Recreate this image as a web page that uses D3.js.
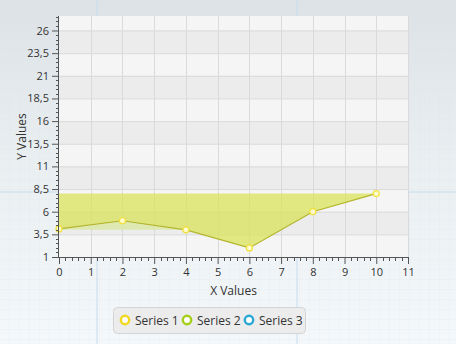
<!DOCTYPE html>
<html>
<head>
<meta charset="utf-8">
<script src="https://cdn.jsdelivr.net/npm/d3@7"></script>
<style>
  html, body { margin: 0; padding: 0; }
  body { width: 456px; height: 344px; overflow: hidden; }
  svg text { font-family: 'Open Sans', Lato, sans-serif; fill: #333; }
</style>
</head>
<body>
<svg id="chart" width="456" height="344"></svg>
<script>
const X_VALUES = [0, 2, 4, 6, 8, 10]
const SERIES_1 = [4.1, 5, 4, 2, 6, 8]
const BASE_HIGH = 8
const BASE_LOW = 4
const LOW_AREA_END = 4
const Y_TICKS = [1, 3.5, 6, 8.5, 11, 13.5, 16, 18.5, 21, 23.5, 26]
const X_TICKS = [0, 1, 2, 3, 4, 5, 6, 7, 8, 9, 10, 11]
const LEGEND = ['Series 1', 'Series 2', 'Series 3']
const LEGEND_COLORS = ['#f2d81c', '#a5cf1a', '#2aa8d4']

const M = { left: 59, right: 408, top: 16, bottom: 257 }
const svg = d3.select('#chart')
const defs = svg.append('defs')

// page background: soft gradient plus graph paper
const bg = defs.append('linearGradient').attr('id', 'bg').attr('x1', 0).attr('y1', 0).attr('x2', 0).attr('y2', 1)
bg.append('stop').attr('offset', 0).attr('stop-color', '#dde2e6')
bg.append('stop').attr('offset', 0.45).attr('stop-color', '#e9eef1')
bg.append('stop').attr('offset', 1).attr('stop-color', '#f4f8fb')
const pat = defs.append('pattern').attr('id', 'paper').attr('width', 10).attr('height', 10).attr('patternUnits', 'userSpaceOnUse')
pat.append('path').attr('d', 'M10 0V10M0 10H10').attr('stroke', '#d6e2ea').attr('stroke-width', 0.6).attr('fill', 'none')
svg.append('rect').attr('width', 456).attr('height', 344).attr('fill', 'url(#bg)')
svg.append('rect').attr('width', 456).attr('height', 344).attr('fill', 'url(#paper)').attr('opacity', 0.6)
svg.append('path').attr('d', 'M97 0V344M297 0V344M0 192H456').attr('stroke', '#c5dcee').attr('stroke-width', 1)

const x = d3.scaleLinear().domain([0, 11]).range([M.left, M.right])
const y = d3.scaleLinear().domain([1, 27.6]).range([M.bottom, M.top])

// plot background with alternating bands
const g = svg.append('g')
g.append('rect').attr('x', M.left).attr('y', M.top).attr('width', M.right - M.left).attr('height', M.bottom - M.top).attr('fill', '#f5f5f5')
const bands = Y_TICKS.slice(0, -1).map((t, i) => [t, Y_TICKS[i + 1]]).filter((_, i) => i % 2 === 1)
g.selectAll('.band').data(bands).join('rect')
  .attr('x', M.left).attr('width', M.right - M.left)
  .attr('y', d => y(d[1])).attr('height', d => y(d[0]) - y(d[1]))
  .attr('fill', '#ececec')

g.selectAll('.hg').data(Y_TICKS.slice(1)).join('line')
  .attr('x1', M.left).attr('x2', M.right).attr('y1', d => y(d) + 0.5).attr('y2', d => y(d) + 0.5)
  .attr('stroke', '#dadada')
g.selectAll('.vg').data(X_TICKS.slice(1)).join('line')
  .attr('y1', M.top).attr('y2', M.bottom).attr('x1', d => Math.round(x(d)) + 0.5).attr('x2', d => Math.round(x(d)) + 0.5)
  .attr('stroke', '#dadada')

// areas
const pts = X_VALUES.map((v, i) => [v, SERIES_1[i]])
g.append('path').datum(pts.filter(d => d[0] <= LOW_AREA_END))
  .attr('fill', '#dbe9a6').attr('opacity', 0.85)
  .attr('d', d3.area().x(d => x(d[0])).y0(y(BASE_LOW)).y1(d => y(d[1])))
g.append('path').datum(pts)
  .attr('fill', '#d9e25a').attr('opacity', 0.75)
  .attr('d', d3.area().x(d => x(d[0])).y0(y(BASE_HIGH)).y1(d => y(d[1])))
g.append('path').datum(pts)
  .attr('fill', 'none').attr('stroke', '#b4b52c').attr('stroke-width', 1.2)
  .attr('d', d3.line().x(d => x(d[0])).y(d => y(d[1])))
g.selectAll('.pt').data(pts).join('circle')
  .attr('cx', d => x(d[0])).attr('cy', d => y(d[1])).attr('r', 3)
  .attr('fill', '#fffbd0').attr('stroke', '#f0e03a').attr('stroke-width', 1.2)

// axes
const yAxis = svg.append('g').attr('transform', `translate(${M.left},0)`)
  .call(d3.axisLeft(y).tickValues(Y_TICKS).tickSize(7).tickPadding(3).tickFormat(d => String(d).replace('.', ',')))
yAxis.append('g').selectAll('line').data(d3.range(1, 27.6, 0.5).filter(v => !Y_TICKS.includes(v))).join('line')
  .attr('x1', -3).attr('x2', 0).attr('y1', d => Math.round(y(d)) + 0.5).attr('y2', d => Math.round(y(d)) + 0.5)
  .attr('stroke', '#555')
const xAxis = svg.append('g').attr('transform', `translate(0,${M.bottom})`)
  .call(d3.axisBottom(x).tickValues(X_TICKS).tickSize(7).tickPadding(4))
xAxis.append('g').selectAll('line').data(d3.range(0, 55).map(i => i / 5).filter(v => !X_TICKS.includes(v))).join('line')
  .attr('y1', 0).attr('y2', 4).attr('x1', d => Math.round(x(d)) + 0.5).attr('x2', d => Math.round(x(d)) + 0.5)
  .attr('stroke', '#555')
;[yAxis, xAxis].forEach(a => {
  a.select('.domain').attr('stroke', '#555')
  a.selectAll('.tick line').attr('stroke', '#555')
  a.selectAll('.tick text').attr('font-size', 11).attr('fill', '#444')
    .style('font-family', "'Open Sans', sans-serif")
})
xAxis.select('.domain').attr('d', `M${M.left},0.5H${M.right}`)
yAxis.select('.domain').attr('d', `M-0.5,${M.top}V${M.bottom}`)

svg.append('text').attr('x', (M.left + M.right) / 2).attr('y', 295).attr('text-anchor', 'middle')
  .attr('font-size', 12).text('X Values')
svg.append('text').attr('transform', `translate(26,${(M.top + M.bottom) / 2}) rotate(-90)`)
  .attr('text-anchor', 'middle').attr('font-size', 12).text('Y Values')

// legend
const lg = svg.append('g')
lg.append('rect').attr('x', 113.5).attr('y', 307.5).attr('width', 192).attr('height', 26).attr('rx', 4)
  .attr('fill', '#ececec').attr('stroke', '#d4d4d4')
const items = lg.selectAll('.item').data(LEGEND).join('g')
  .attr('transform', (d, i) => `translate(${125 + i * 62},320)`)
items.append('circle').attr('r', 4.2).attr('fill', '#fff').attr('stroke', (d, i) => LEGEND_COLORS[i]).attr('stroke-width', 2.4)
items.append('text').attr('x', 10).attr('y', 4.5).attr('font-size', 12).text(d => d)
</script>
</body>
</html>
